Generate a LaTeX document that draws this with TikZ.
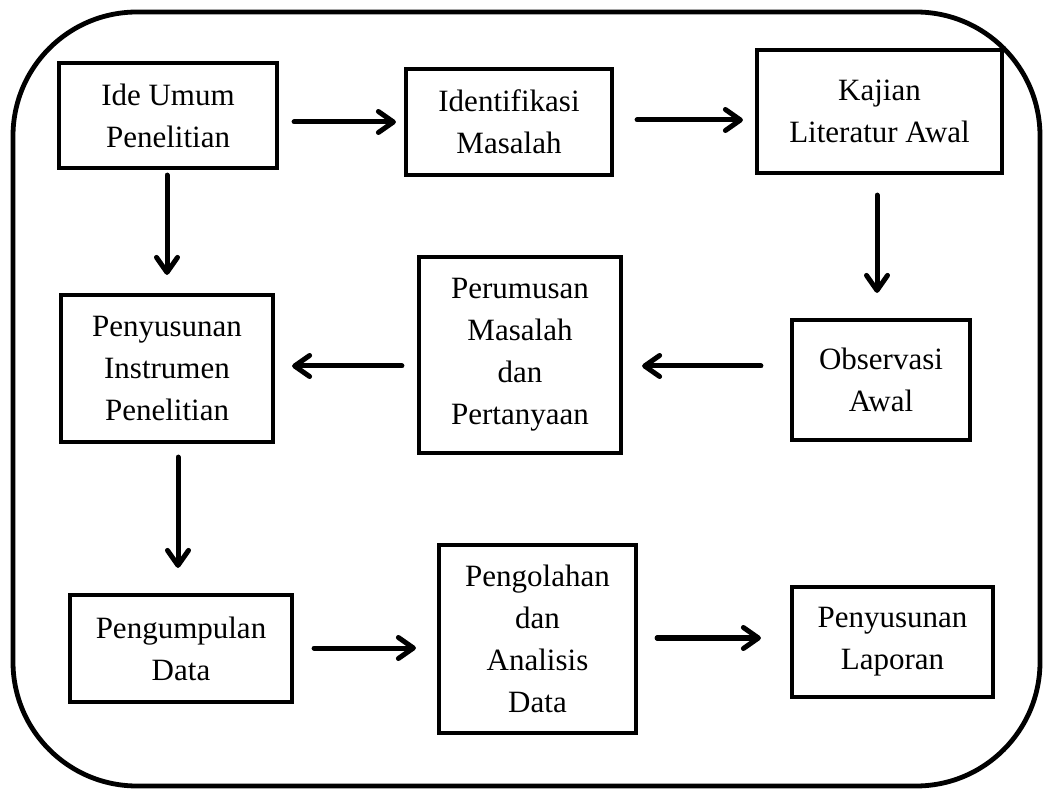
\documentclass[tikz,border=0pt]{standalone}
\usepackage{fontspec}
\setmainfont{Liberation Serif}
\usetikzlibrary{arrows.meta}
\begin{document}
\begin{tikzpicture}[x=0.5pt,y=-0.5pt,
  box/.style={draw, line width=2.1pt, align=center, inner sep=0pt, font=\fontsize{15.5}{21}\selectfont},
  arr/.style={line width=2.5pt, line cap=round, -{Straight Barb[length=7.5pt,width=10.5pt,line width=2.5pt,line cap=round,line join=round]}},
  gap/.style 2 args={shorten <=#1, shorten >=#2}]
\useasboundingbox (0,0) rectangle (1044,790);
\draw[line width=2.4pt, rounded corners=62pt] (13,12) rectangle (1040,786);
% nodes
\node[box, minimum width=109pt, minimum height=52.5pt] (n1) at (168,115.5) {Ide Umum\\Penelitian};
\node[box, minimum width=103pt, minimum height=53pt] (n2) at (509,122) {Identifikasi\\Masalah};
\node[box, minimum width=122.5pt, minimum height=61.5pt] (n3) at (879.5,111.5) {Kajian\\Literatur Awal};
\node[box, minimum width=89pt, minimum height=60pt] (n4) at (881,380) {Observasi\\Awal};
\node[box, minimum width=101pt, minimum height=98pt] (n5) at (520,355) {Perumusan\\Masalah\\dan\\Pertanyaan};
\node[box, minimum width=106pt, minimum height=73.5pt] (n6) at (167,368.5) {Penyusunan\\Instrumen\\Penelitian};
\node[box, minimum width=111pt, minimum height=53.5pt] (n7) at (181,648.5) {Pengumpulan\\Data};
\node[box, minimum width=98.5pt, minimum height=94pt] (n8) at (537.5,639) {Pengolahan\\dan\\Analisis\\Data};
\node[box, minimum width=100.5pt, minimum height=55pt] (n9) at (892.5,642) {Penyusunan\\Laporan};
% guide coordinates
\coordinate (h1) at (0,122);
\coordinate (h1b) at (0,120);
\coordinate (h2) at (0,366);
\coordinate (h3) at (0,648);
\coordinate (h4) at (0,638);
\coordinate (v1) at (167,0);
\coordinate (v2) at (877,0);
\coordinate (v3) at (178,0);
% connectors
\draw[arr, gap={7.5pt}{4pt}] (n1.east |- h1) -- (n2.west |- h1);
\draw[arr, gap={11.5pt}{6pt}] (n2.east |- h1b) -- (n3.west |- h1b);
\draw[arr, gap={2.5pt}{9pt}] (v1 |- n1.south) -- (v1 |- n6.north);
\draw[arr, gap={10pt}{12.5pt}] (v2 |- n3.south) -- (v2 |- n4.north);
\draw[arr, gap={14.5pt}{9.5pt}] (n4.west |- h2) -- (n5.east |- h2);
\draw[arr, gap={7.5pt}{8.5pt}] (n5.west |- h2) -- (n6.east |- h2);
\draw[arr, gap={6.5pt}{12.5pt}] (v3 |- n6.south) -- (v3 |- n7.north);
\draw[arr, gap={10pt}{10.5pt}] (n7.east |- h3) -- (n8.west |- h3);
\draw[arr, gap={9.5pt}{14.5pt}] (n8.east |- h4) -- (n9.west |- h4);
\end{tikzpicture}
\end{document}
